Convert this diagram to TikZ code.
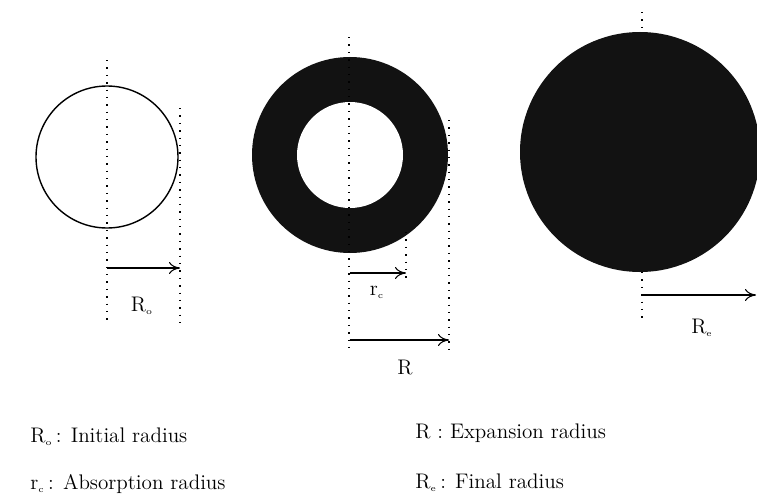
\documentclass[tikz,border=0pt]{standalone}
\usepackage{fontspec}
\usepackage{tikz}
\usetikzlibrary{arrows.meta}

\begin{document}
\begin{tikzpicture}[
    >={To[length=2.2mm,width=2.4mm]},
    x=0.2mm, y=-0.2mm,
    guide/.style={line width=0.9pt,dash pattern=on 0.8pt off 3.4pt},
    dimarrow/.style={->,line width=0.6pt},
    ball/.style={circle,inner sep=0pt},
    lbl/.style={font=\large,inner sep=1pt},
    keytext/.style={font=\large\addfontfeature{LetterSpace=3},anchor=base west,inner sep=0pt},
  ]
  \useasboundingbox (0,0) rectangle (757,500);
  \clip (0,0) rectangle (757,500);

  % --- initial state ---
  \node[ball,draw,line width=0.8pt,minimum size=28.4mm] (init) at (107,157) {};
  \coordinate (o1t) at (107,60);   \coordinate (o1b) at (107,325);
  \coordinate (o1r) at (180,108);  \coordinate (o1s) at (180,328);
  \coordinate (a1s) at (107,268);  \coordinate (a1e) at (180,268);
  \draw[guide] (o1t) -- (o1b);
  \draw[guide] (o1r) -- (o1s);
  \draw[dimarrow] (a1s) -- (a1e);
  \node[lbl] (lbRo) at (142,306) {R\textsubscript{\tiny o}};

  % --- expanding state (shell + absorbed core) ---
  \node[ball,fill=black!93,minimum size=39.2mm] (shell) at (350,155) {};
  \node[ball,fill=white,minimum size=21.2mm] (core) at (350,155) {};
  \coordinate (o2t) at (349,37);   \coordinate (o2b) at (349,352);
  \coordinate (o2r) at (449,120);  \coordinate (o2s) at (449,352);
  \coordinate (o2c) at (406,232);  \coordinate (o2d) at (406,280);
  \draw[guide] (o2t) -- (o2b);
  \draw[guide] (o2r) -- (o2s);
  \draw[guide] (o2c) -- (o2d);
  \coordinate (a2s) at (350,273);  \coordinate (a2e) at (406,273);
  \coordinate (a3s) at (350,340);  \coordinate (a3e) at (449,340);
  \draw[dimarrow] (a2s) -- (a2e);
  \draw[dimarrow] (a3s) -- (a3e);
  \node[lbl] (lbrc) at (377,292) {r\textsubscript{\tiny c}};
  \node[lbl] (lbR)  at (405,368) {R};

  % --- final state ---
  \node[ball,fill=black!93,minimum size=48mm] (final) at (640,152) {};
  \coordinate (o3t) at (642,12);   \coordinate (o3u) at (642,33);
  \coordinate (o3v) at (642,272);  \coordinate (o3b) at (642,318);
  \draw[guide] (o3t) -- (o3u);
  \draw[guide] (o3v) -- (o3b);
  \coordinate (a4s) at (642,295);  \coordinate (a4e) at (756,295);
  \draw[dimarrow] (a4s) -- (a4e);
  \node[lbl] (lbRe) at (702,328) {R\textsubscript{\tiny e}};

  % --- key ---
  \node[keytext] (k1) at (30,442)  {R\textsubscript{\tiny o}\,: Initial radius};
  \node[keytext] (k2) at (415,438) {R : Expansion radius};
  \node[keytext] (k3) at (30,489)  {r\textsubscript{\tiny c}\,: Absorption radius};
  \node[keytext] (k4) at (415,488) {R\textsubscript{\tiny e}\,: Final radius};

\end{tikzpicture}
\end{document}
